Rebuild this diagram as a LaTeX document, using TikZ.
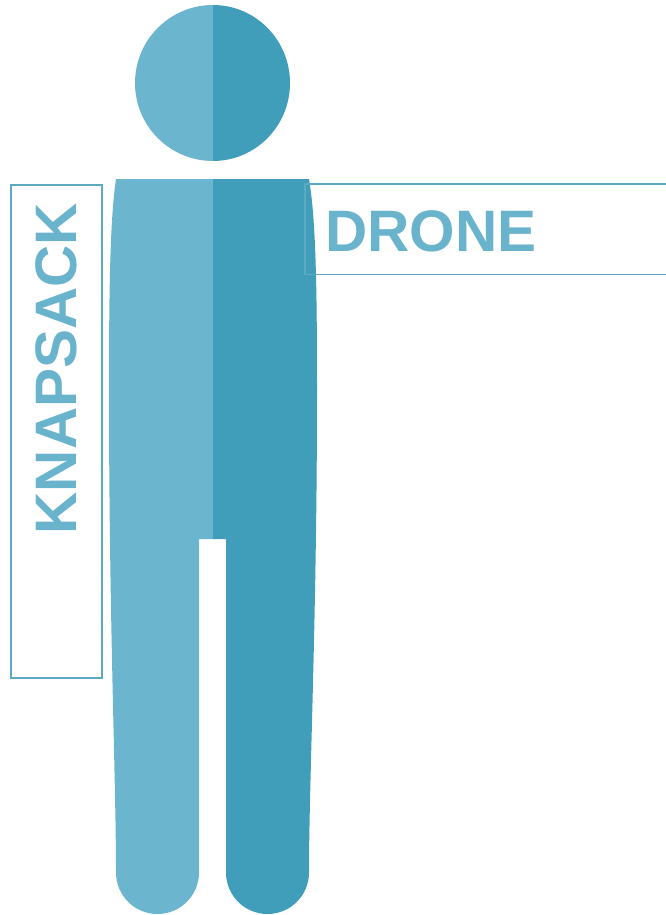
\documentclass[tikz,border=0pt]{standalone}
\usepackage{fontspec}
\setmainfont{Liberation Sans}
\definecolor{lightteal}{HTML}{6CB5CE}
\definecolor{darkteal}{HTML}{419EBA}
\definecolor{labelteal}{HTML}{6AB3CC}
\definecolor{framecol}{HTML}{5BA9C2}
\tikzset{
  labelbox/.style={draw=framecol, line width=1.7pt, anchor=north west, inner sep=0pt},
  labeltext/.style={text=labelteal, font=\fontsize{58.5}{58.5}\selectfont\bfseries, inner sep=0pt}
}
\begin{document}
\begin{tikzpicture}[x=1pt, y=-1pt]
  \useasboundingbox (0,0) rectangle (666,915);

  % Head
  \fill[lightteal] (213,5) arc[start angle=90, end angle=270, x radius=78, y radius=-78];
  \fill[darkteal] (213,5) arc[start angle=90, end angle=-90, x radius=77, y radius=-78];

  % Left half of the body
  \fill[lightteal] (116,179) -- (213,179) -- (213,539) -- (199,539) -- (199,872.5)
    arc[start angle=0, end angle=-180, x radius=41.5, y radius=-41.5]
    .. controls (116,780) and (109,620) .. (109,390)
    .. controls (109,290) and (110,220) .. (116,179) -- cycle;

  % Right half of the body
  \fill[darkteal] (309,179) -- (213,179) -- (213,539) -- (226,539) -- (226,872.5)
    arc[start angle=180, end angle=360, x radius=41.5, y radius=-41.5]
    .. controls (309,780) and (317,620) .. (317,390)
    .. controls (317,290) and (316,220) .. (309,179) -- cycle;

  % Labels
  \node[labelbox, minimum width=91pt, minimum height=493pt] (knapsackbox) at (10,184) {};
  \node[labeltext, rotate=90] (knapsack) at (56,368.5) {KNAPSACK};
  \draw[framecol, line width=1.7pt] (666,184) -- (305,184) -- (305,274.5) -- (666,274.5);
  \node[labeltext, anchor=west] (drone) at (325,231) {DRONE};
\end{tikzpicture}
\end{document}
